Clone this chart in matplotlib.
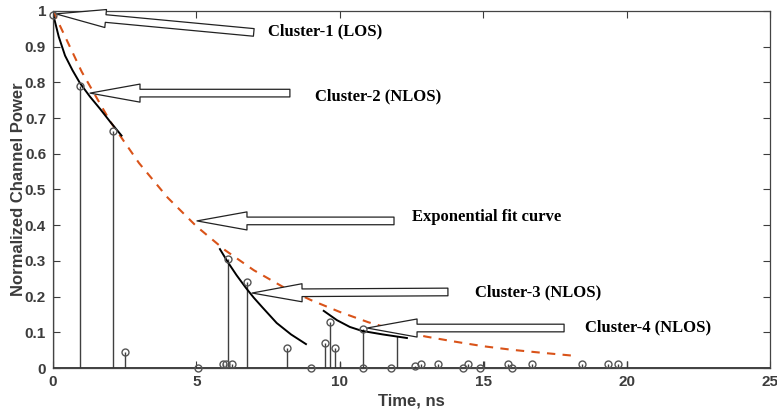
import numpy as np
import matplotlib
matplotlib.use("Agg")
import matplotlib.pyplot as plt

# stem samples (time in ns, normalized power)
stem_t = [0.0, 0.95, 2.1, 2.5, 5.05, 5.93, 6.03, 6.1, 6.24, 6.75, 8.15, 9.0,
          9.5, 9.65, 9.85, 10.8, 10.8, 11.8, 12.62, 12.83, 13.42, 14.3, 14.47,
          14.89, 15.86, 16.0, 16.7, 18.45, 19.35, 19.7]
stem_p = [0.99, 0.79, 0.665, 0.045, 0.0, 0.01, 0.01, 0.305, 0.01, 0.24, 0.055, 0.0,
          0.07, 0.13, 0.055, 0.11, 0.0, 0.0, 0.005, 0.01, 0.01, 0.0, 0.01,
          0.0, 0.01, 0.0, 0.01, 0.01, 0.01, 0.01]
# stems drawn without a visible marker
bare_t = [10.0, 12.0, 15.03, 20.0]
bare_p = [0.017, 0.09, 0.02, 0.02]

# exponential fit curve
fit_t = [0, 1, 2, 3, 4, 5, 6, 7, 8, 9, 10, 11, 12, 13, 14, 15, 16, 17, 18.2]
fit_p = [1.0, 0.83, 0.69, 0.574, 0.477, 0.397, 0.33, 0.274, 0.228, 0.19, 0.157,
         0.128, 0.105, 0.088, 0.074, 0.061, 0.051, 0.043, 0.034]

# per-cluster decay curves
c1_t = [0.01, 0.2, 0.42, 0.68, 0.94, 1.29, 1.64, 1.99, 2.39]
c1_p = [0.989, 0.928, 0.875, 0.834, 0.798, 0.76, 0.726, 0.69, 0.651]
c3_t = [5.82, 6.1, 6.4, 6.73, 7.0, 7.3, 7.8, 8.3, 8.82]
c3_p = [0.333, 0.296, 0.26, 0.224, 0.197, 0.17, 0.126, 0.094, 0.067]
c4_t = [9.44, 9.9, 10.35, 10.77, 11.5, 12.34]
c4_p = [0.16, 0.134, 0.115, 0.104, 0.094, 0.084]

# annotations: label, text pos, arrow tip, arrow tail
labels = ["Cluster-1 (LOS)", "Cluster-2 (NLOS)", "Exponential fit curve",
          "Cluster-3 (NLOS)", "Cluster-4 (NLOS)"]
label_xy = [(7.5, 0.944), (9.14, 0.762), (12.52, 0.423), (14.71, 0.213), (18.55, 0.115)]
tip_xy = [(0.1, 0.992), (1.29, 0.770), (5.02, 0.412), (6.94, 0.210), (10.95, 0.112)]
tail_xy = [(7.0, 0.94), (8.26, 0.770), (11.89, 0.412), (13.77, 0.213), (17.82, 0.112)]

fig = plt.figure(figsize=(7.77, 4.15), dpi=100)
ax = fig.add_axes([53 / 777, 47 / 415, 717 / 777, 357 / 415])

gray = '#3c3c3c'
ml, sl, bl = ax.stem(stem_t, stem_p, linefmt='-', markerfmt='o', basefmt=' ')
plt.setp(sl, color='#404040', linewidth=1.0)
plt.setp(ml, markerfacecolor='none', markeredgecolor='#555555', markersize=5,
         markeredgewidth=1.0, clip_on=False, zorder=6)
ml2, sl2, bl2 = ax.stem(bare_t, bare_p, linefmt='-', markerfmt=' ', basefmt=' ')
plt.setp(sl2, color='#404040', linewidth=1.0)
ax.axhline(0, color='#333333', linewidth=1.3, zorder=3)

ax.plot(fit_t, fit_p, '--', color='#D95319', linewidth=1.5, dashes=(4, 3.5))
for ct, cp in [(c1_t, c1_p), (c3_t, c3_p), (c4_t, c4_p)]:
    ax.plot(ct, cp, '-', color='black', linewidth=1.4)

for lab, lxy, tip, tail in zip(labels, label_xy, tip_xy, tail_xy):
    ax.annotate('', xy=tip, xytext=tail,
                arrowprops=dict(arrowstyle='simple,head_length=3.6,head_width=1.3,tail_width=0.55',
                                fc='white', ec='#222222', lw=0.9, shrinkA=0, shrinkB=0))
    ax.text(lxy[0], lxy[1], lab, family='Liberation Serif', fontweight='bold',
            fontsize=12, va='center', ha='left', color='black')

ax.set_xlim(0, 25)
ax.set_ylim(0, 1)
ax.set_xticks([0, 5, 10, 15, 20, 25])
ax.set_yticks(np.arange(0, 1.01, 0.1))
ax.set_yticklabels(['0', '0.1', '0.2', '0.3', '0.4', '0.5', '0.6', '0.7', '0.8', '0.9', '1'])
ax.tick_params(direction='in', top=True, right=True, length=5, width=0.8,
               labelsize=11, colors=gray, pad=5)
for s in ax.spines.values():
    s.set_color('#444444')
    s.set_linewidth(0.9)
ax.set_xlabel('Time, ns', fontsize=12, color=gray, labelpad=3)
ax.set_ylabel('Normalized Channel Power', fontsize=12, color=gray, labelpad=-1)
for t in ax.get_xticklabels() + ax.get_yticklabels():
    t.set_family('Liberation Sans')
    t.set_fontweight('bold')
ax.xaxis.label.set_family('Liberation Sans')
ax.yaxis.label.set_family('Liberation Sans')
ax.xaxis.label.set_fontweight('bold')
ax.yaxis.label.set_fontweight('bold')

fig.savefig('out.png', dpi=100)
